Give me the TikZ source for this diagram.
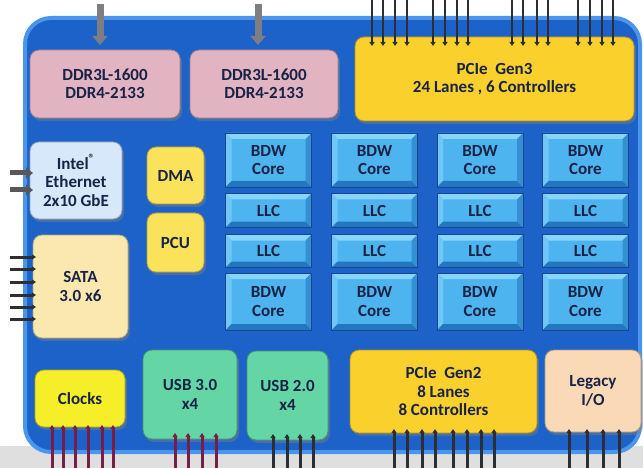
\documentclass[tikz,border=0pt]{standalone}
\usepackage{fontspec}
\setmainfont{Carlito}
\usetikzlibrary{arrows.meta,shadows}
\definecolor{chipblue}{RGB}{28,98,200}
\definecolor{chipedge}{RGB}{75,150,235}
\definecolor{navy}{RGB}{25,35,70}
\definecolor{ddrpink}{RGB}{226,180,194}
\definecolor{genyellow}{RGB}{250,208,45}
\definecolor{ethblue}{RGB}{215,232,250}
\definecolor{satacream}{RGB}{250,232,175}
\definecolor{unityellow}{RGB}{250,226,90}
\definecolor{clockyellow}{RGB}{246,238,40}
\definecolor{usbgreen}{RGB}{100,214,165}
\definecolor{legacypeach}{RGB}{250,218,182}
\definecolor{corefill}{RGB}{78,180,240}
\definecolor{corelight}{RGB}{135,212,252}
\definecolor{coredark}{RGB}{35,118,192}
\definecolor{coreline}{RGB}{25,70,140}
\definecolor{lanegray}{RGB}{45,45,52}
\definecolor{lanered}{RGB}{120,28,72}
\definecolor{busgray}{RGB}{125,125,130}
\tikzset{
  blk/.style={draw=#1!70!black,fill=#1,rounded corners=9pt,line width=0.8pt,
    inner sep=0pt,outer sep=0pt,align=center,text=navy,
    font=\bfseries\fontsize{17}{18.5}\selectfont,
    drop shadow={opacity=0.45,shadow xshift=2pt,shadow yshift=-3pt}},
  blk/.default=ddrpink,
  core/.style={fill=corefill,draw=coreline,line width=0.8pt,inner sep=0pt,outer sep=0pt,
    minimum width=86,align=center,text=navy,font=\bfseries\fontsize{17}{18.5}\selectfont,
    path picture={
      \coordinate (nw) at (path picture bounding box.north west);
      \coordinate (ne) at (path picture bounding box.north east);
      \coordinate (sw) at (path picture bounding box.south west);
      \coordinate (se) at (path picture bounding box.south east);
      \fill[corelight] (nw) -- (ne) -- ([shift={(-6pt,-6pt)}]ne) -- ([shift={(6pt,-6pt)}]nw) -- cycle;
      \fill[corelight!60!corefill] (nw) -- (sw) -- ([shift={(6pt,6pt)}]sw) -- ([shift={(6pt,-6pt)}]nw) -- cycle;
      \fill[coredark] (sw) -- (se) -- ([shift={(-6pt,6pt)}]se) -- ([shift={(6pt,6pt)}]sw) -- cycle;
      \fill[coredark!60!corefill] (ne) -- (se) -- ([shift={(-6pt,6pt)}]se) -- ([shift={(-6pt,-6pt)}]ne) -- cycle;
    }},
  lane/.style={-{Triangle[length=4pt,width=5pt]},line width=2.2pt,draw=#1},
  lane/.default=lanegray,
  bus/.style={-{Triangle[length=9pt,width=15pt]},line width=7pt,draw=#1},
  bus/.default=busgray,
}
\begin{document}
\begin{tikzpicture}[x=1pt,y=-1pt]
  \useasboundingbox (0,0) rectangle (643,468);
  % package and die
  \fill[gray!25] (0,446) rectangle (643,468);
  \fill[chipblue,draw=chipedge,line width=4pt,rounded corners=26pt] (25,18) rectangle (640,452);

  % memory and pcie
  \node[blk,minimum width=150,minimum height=68] (ddra) at (105,84) {DDR3L-1600\\DDR4-2133};
  \node[blk,minimum width=148,minimum height=68] (ddrb) at (264,84) {DDR3L-1600\\DDR4-2133};
  \node[blk=genyellow,minimum width=279,minimum height=84] (pcieg3) at (494.5,79) {PCIe\ \ Gen3\\24 Lanes , 6 Controllers};

  % left column
  \node[blk=ethblue,minimum width=92,minimum height=77] (eth) at (76,180.5) {Intel\textsuperscript{\textregistered}\\Ethernet\\2x10 GbE};
  \node[blk=satacream,minimum width=95,minimum height=103] (sata) at (80.5,286.5) {SATA\\3.0 x6};
  \node[blk=unityellow,minimum width=57,minimum height=57] (dma) at (175.5,175.5) {DMA};
  \node[blk=unityellow,minimum width=57,minimum height=59] (pcu) at (175.5,242.5) {PCU};

  % cores and caches
  \foreach \x [count=\i] in {268.5,374.5,480,585.5} {
    \node[core,minimum height=54] (corea\i) at (\x,160) {BDW\\Core};
    \node[core,minimum height=34] (llca\i) at (\x,210.5) {LLC};
    \node[core,minimum height=33] (llcb\i) at (\x,251) {LLC};
    \node[core,minimum height=57] (coreb\i) at (\x,301.5) {BDW\\Core};
  }

  % bottom row
  \node[blk=clockyellow,minimum width=90,minimum height=57] (clocks) at (80,398.5) {Clocks};
  \node[blk=usbgreen,minimum width=94,minimum height=89] (usba) at (190,394.5) {USB 3.0\\x4};
  \node[blk=usbgreen,minimum width=81,minimum height=89] (usbb) at (287.5,395.5) {USB 2.0\\x4};
  \node[blk=genyellow,minimum width=187,minimum height=83] (pcieg2) at (443.5,391.5) {PCIe\ \ Gen2\\8 Lanes\\8 Controllers};
  \node[blk=legacypeach,minimum width=96,minimum height=82] (legacy) at (593,391) {Legacy\\I/O};

  % pins on top
  \coordinate (memin1) at (100,4);
  \coordinate (memin2) at (258,4);
  \draw[bus] (memin1) -- ([yshift=5pt]memin1 |- ddra.north);
  \draw[bus] (memin2) -- ([yshift=5pt]memin2 |- ddrb.north);
  \foreach \x [count=\i] in {372,383,395,407,433,445,457,468,512,523,537,548,578,590,602,613} {
    \coordinate (gthree\i) at (\x,0);
    \draw[lane] (gthree\i) -- ([yshift=-9pt]gthree\i |- pcieg3.north);
  }

  % pins on the left
  \foreach \y [count=\i] in {173,190} {
    \coordinate (ethin\i) at (10,\y);
    \draw[bus=lanegray!80,line width=5pt,-{Triangle[length=7pt,width=11pt]}] (ethin\i) -- ([xshift=3pt]ethin\i -| eth.west);
  }
  \foreach \y [count=\i] in {257,269,282,295,307,319} {
    \coordinate (satain\i) at (10,\y);
    \draw[lane,line width=3pt] (satain\i) -- ([xshift=3pt]satain\i -| sata.west);
  }

  % pins at the bottom
  \foreach \x [count=\i] in {52,63,75,88,102,113} {
    \coordinate (clkpin\i) at (\x,468);
    \draw[lane=lanered,line width=3pt] (clkpin\i) -- ([yshift=2pt]clkpin\i |- clocks.south);
  }
  \foreach \x [count=\i] in {175,188,202,216} {
    \coordinate (usbapin\i) at (\x,468);
    \draw[lane=lanered,line width=3pt] (usbapin\i) -- ([yshift=6pt]usbapin\i |- usba.south);
  }
  \foreach \x [count=\i] in {273,287,300,313} {
    \coordinate (usbbpin\i) at (\x,468);
    \draw[lane,line width=3pt] (usbbpin\i) -- ([yshift=6pt]usbbpin\i |- usbb.south);
  }
  \foreach \x [count=\i] in {394,407,422,435,453,467,481,494} {
    \coordinate (gtwopin\i) at (\x,468);
    \draw[lane,line width=3pt] (gtwopin\i) -- ([yshift=4pt]gtwopin\i |- pcieg2.south);
  }
  \foreach \x [count=\i] in {569,587,603,619} {
    \coordinate (legpin\i) at (\x,468);
    \draw[lane,line width=3pt] (legpin\i) -- ([yshift=3pt]legpin\i |- legacy.south);
  }
\end{tikzpicture}
\end{document}
